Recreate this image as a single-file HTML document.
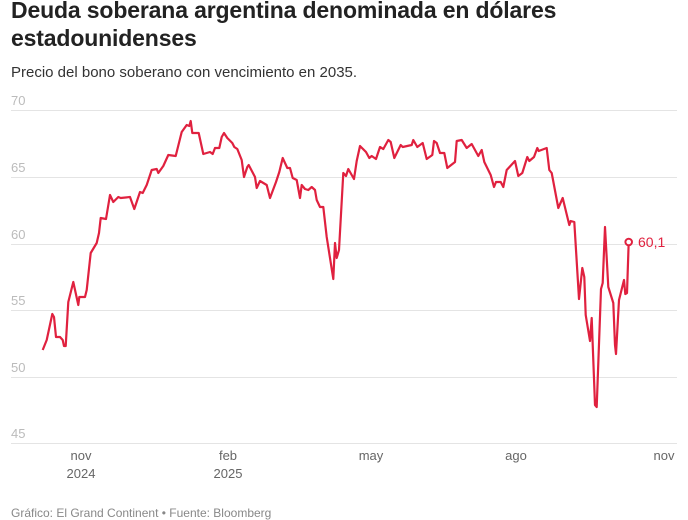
<!DOCTYPE html>
<html><head><meta charset="utf-8"><style>
body{margin:0;background:#fff;width:688px;height:516px;overflow:hidden;font-family:"Liberation Sans",sans-serif;}
.t{position:absolute;left:11px;top:-4px;font-size:23px;font-weight:bold;line-height:28px;color:#222;width:670px;letter-spacing:-0.15px;}
.s{position:absolute;left:11px;top:64px;font-size:15px;color:#333;}
.f{position:absolute;left:11px;top:506px;font-size:12px;color:#888;}
</style></head><body>
<div class="t">Deuda soberana argentina denominada en dólares estadounidenses</div>
<div class="s">Precio del bono soberano con vencimiento en 2035.</div>
<svg style="position:absolute;left:0;top:0" width="688" height="516">
<g stroke="#e4e4e4" stroke-width="1">
<line x1="11" x2="677" y1="110.5" y2="110.5"/><line x1="11" x2="677" y1="177.5" y2="177.5"/>
<line x1="11" x2="677" y1="244.5" y2="244.5"/><line x1="11" x2="677" y1="310.5" y2="310.5"/>
<line x1="11" x2="677" y1="377.5" y2="377.5"/><line x1="11" x2="677" y1="443.5" y2="443.5"/>
</g>
<g fill="#bbb" font-size="13" font-family="Liberation Sans,sans-serif">
<text x="11" y="105">70</text><text x="11" y="172">65</text><text x="11" y="239">60</text>
<text x="11" y="305">55</text><text x="11" y="372">50</text><text x="11" y="438">45</text>
</g>
<g fill="#666" font-size="13" font-family="Liberation Sans,sans-serif" text-anchor="middle">
<text x="81" y="460">nov</text><text x="81" y="478">2024</text>
<text x="228" y="460">feb</text><text x="228" y="478">2025</text>
<text x="371" y="460">may</text><text x="516" y="460">ago</text><text x="664" y="460">nov</text>
</g>
<polyline fill="none" stroke="#e0213f" stroke-width="2.2" stroke-linejoin="round" points="42.7,350 46.7,340 52.3,314 54,317 56,337 60,337 62.7,340 64,346 65.7,346 68.3,302 73.3,282 78.3,305 79.3,297 85,297 86.7,290 90.7,253 96.7,243 99,233 100.7,218 106,219 110,195 113.3,202 118.3,197 120.7,198 130,197 134.3,209 140,192 142.7,193 146.7,185 151.7,170 156.7,169 158.3,173 163.3,166 168.3,155 175.7,156 181.7,132 186.7,125 189.3,126 190.7,121 192.3,133 198.7,133 203.3,154 210,152 212.7,154 215,148 219.3,148 221.7,137 224,133 227.3,138 232.3,143 234.3,147 237.3,149 241.7,160 244,177 247.3,167 248.7,165 255,177 256.7,188 260,181 266.7,185 270,198 276,182 279.3,172 282.7,158 287.3,168 290,168 292.7,178 296.7,180 300,198 301.7,185 305,189 308.3,190 311.7,187 315,190 316.7,200 320,207 323.3,207 326.7,237 333.3,279 335,243 336.7,258 339,250 343.3,173 346,176 348.3,169 354,179 356.7,161 360,146 366,152 369.3,158 371.7,156 376,159 380,147 383.3,149 388.3,140 390.7,142 394.3,158 400.7,145 402.7,147 411.7,145 413.3,140 417.3,147 422.7,143 426.7,159 432.3,155 434,141 436.7,143 440,153 444.3,153 447.3,168 455,162 456.7,141 461.7,140 466.7,148 471.7,144 478.3,156 481.7,150 484.3,162 490.7,175 494,187 496,182 500.7,182 503.3,187 506.7,170 515,161 518.3,176 522.3,173 527.3,157 529.3,161 534,157 537.3,148 538.7,151 546.7,148 549.3,170 551.7,173 558.3,208 562.7,198 569.3,225 570.7,221 574.3,222 579,299 582.3,268 584.3,277 585.7,315 590,341 591.7,318 595,405 596.7,407 601,289 602.7,283 605,227 608.3,287 613.3,303 615,345 616,354 619,300 624,280 625.3,294 627,293 628.7,242"/>
<circle cx="628.7" cy="242" r="3.3" fill="#fff" stroke="#e0213f" stroke-width="2"/>
<text x="638" y="247" fill="#e0213f" font-size="14" font-family="Liberation Sans,sans-serif">60,1</text>
</svg>
<div class="f">Gráfico: El Grand Continent • Fuente: Bloomberg</div>
</body></html>
